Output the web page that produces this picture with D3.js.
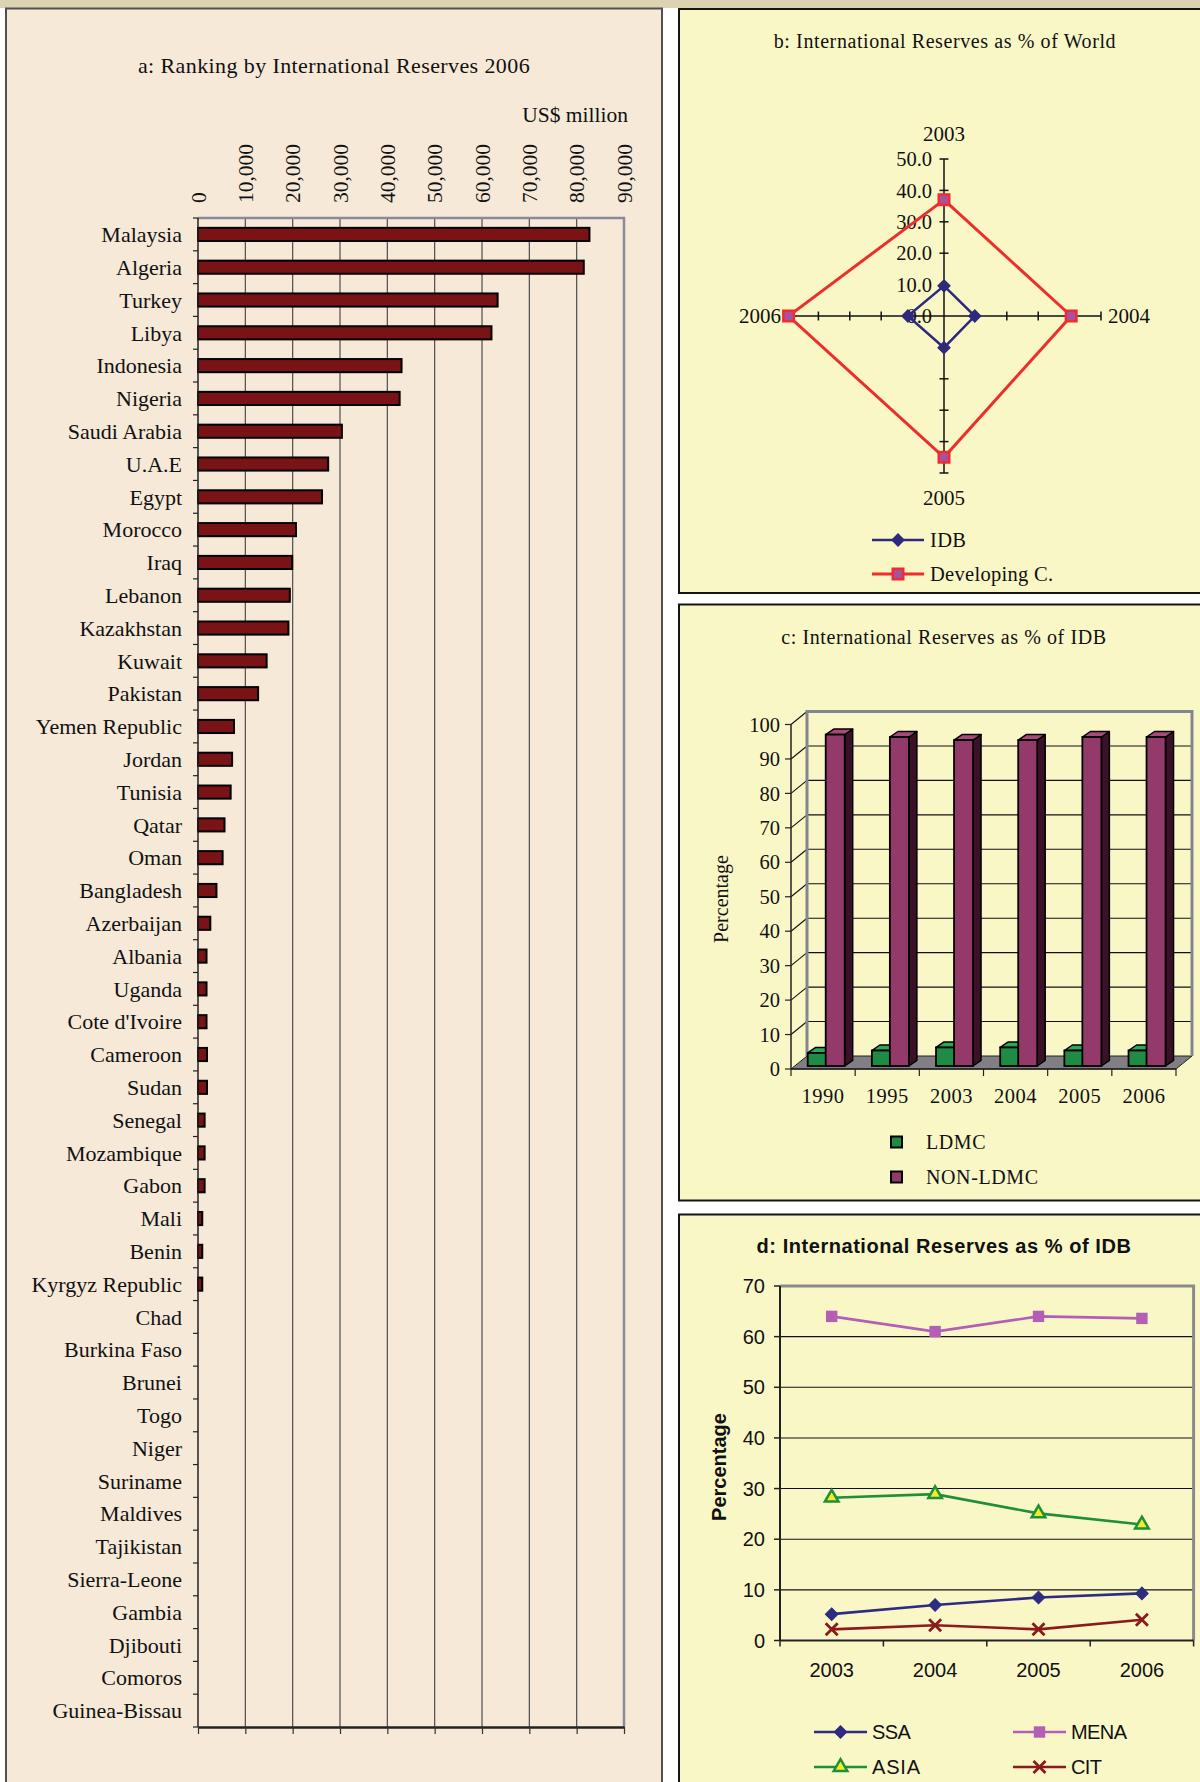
<!DOCTYPE html>
<html>
<head>
<meta charset="utf-8">
<script src="https://cdn.jsdelivr.net/npm/d3@7"></script>
<style>
  html, body { margin: 0; padding: 0; background: #ffffff; }
  svg { display: block; }
</style>
</head>
<body>
<svg id="chart" width="1200" height="1782"></svg>
<script>
// ---------- a: ranking by international reserves 2006 (US$ million) ----------
const countries = [
  "Malaysia", "Algeria", "Turkey", "Libya", "Indonesia", "Nigeria", "Saudi Arabia",
  "U.A.E", "Egypt", "Morocco", "Iraq", "Lebanon", "Kazakhstan", "Kuwait", "Pakistan",
  "Yemen Republic", "Jordan", "Tunisia", "Qatar", "Oman", "Bangladesh", "Azerbaijan",
  "Albania", "Uganda", "Cote d'Ivoire", "Cameroon", "Sudan", "Senegal", "Mozambique",
  "Gabon", "Mali", "Benin", "Kyrgyz Republic", "Chad", "Burkina Faso", "Brunei", "Togo",
  "Niger", "Suriname", "Maldives", "Tajikistan", "Sierra-Leone", "Gambia", "Djibouti",
  "Comoros", "Guinea-Bissau"
];
const reserves2006 = [
  82700, 81500, 63300, 62000, 43000, 42600, 30400,
  27500, 26200, 20700, 19900, 19400, 19100, 14500, 12700,
  7600, 7200, 6900, 5600, 5200, 3900, 2600,
  1800, 1800, 1800, 1900, 1900, 1400, 1400,
  1400, 900, 900, 900, 0, 0, 0, 0,
  0, 0, 0, 0, 0, 0, 0,
  0, 0
];
const reserveTicks = [0, 10000, 20000, 30000, 40000, 50000, 60000, 70000, 80000, 90000];

// ---------- b: international reserves as % of world ----------
const radarYears = ["2003", "2004", "2005", "2006"];
const idbShareWorld = [9.6, 9.8, 10.1, 11.5];
const developingShareWorld = [37.0, 40.5, 45.0, 49.5];
const radarTicks = [0, 10, 20, 30, 40, 50];

// ---------- c: international reserves as % of IDB (LDMC split) ----------
const groupYears = ["1990", "1995", "2003", "2004", "2005", "2006"];
const ldmcShare = [3.8, 4.5, 5.4, 5.4, 4.5, 4.5];
const nonLdmcShare = [96.2, 95.5, 94.6, 94.6, 95.5, 95.5];
const shareTicks = [0, 10, 20, 30, 40, 50, 60, 70, 80, 90, 100];

// ---------- d: international reserves as % of IDB (regions) ----------
const regionYears = ["2003", "2004", "2005", "2006"];
const ssaShare = [5.2, 7.0, 8.5, 9.3];
const menaShare = [64.0, 61.0, 64.0, 63.6];
const asiaShare = [28.2, 28.9, 25.1, 22.9];
const citShare = [2.2, 3.0, 2.2, 4.1];
const regionTicks = [0, 10, 20, 30, 40, 50, 60, 70];

const serif = '"Liberation Serif","Times New Roman",Times,serif';
const sans = '"Liberation Sans",Arial,Helvetica,sans-serif';

const svg = d3.select("#chart");

// page strip and panel frames
svg.append("rect").attr("x", 0).attr("y", 0).attr("width", 1200).attr("height", 8).attr("fill", "#dcd3b1");
const panels = [
  { x: 6, y: 8.5, w: 656, h: 1800, fill: "#f6e9d8", stroke: "#505050" },
  { x: 679, y: 9, w: 540, h: 584, fill: "#faf7c7", stroke: "#151515" },
  { x: 679, y: 604.5, w: 540, h: 596, fill: "#faf7c7", stroke: "#151515" },
  { x: 679, y: 1214.5, w: 540, h: 600, fill: "#faf7c7", stroke: "#151515" }
];
svg.selectAll("rect.panel").data(panels).join("rect")
  .attr("class", "panel")
  .attr("x", d => d.x).attr("y", d => d.y).attr("width", d => d.w).attr("height", d => d.h)
  .attr("fill", d => d.fill).attr("stroke", d => d.stroke).attr("stroke-width", 2);

function label(g, x, y, str, o = {}) {
  return g.append("text")
    .attr("x", x).attr("y", y)
    .attr("dy", o.dy || "0.35em")
    .attr("text-anchor", o.anchor || "middle")
    .attr("font-family", o.font || serif)
    .attr("font-size", o.size || 20)
    .attr("font-weight", o.weight || "normal")
    .attr("letter-spacing", o.ls || 0)
    .attr("fill", o.fill || "#111")
    .attr("transform", o.rotate ? `rotate(${o.rotate},${x},${y})` : null)
    .text(str);
}

// ================= panel a =================
(function () {
  const g = svg.append("g");
  const x = d3.scaleLinear().domain([0, 90000]).range([198, 624]);
  const y = d3.scaleBand().domain(countries).range([218, 1727]).paddingInner(0.6).paddingOuter(0.3);
  const top = 218, bottom = 1727;

  label(g, 334, 65, "a: Ranking by International Reserves 2006", { size: 22, ls: 0.4 });
  label(g, 628, 114, "US$ million", { size: 21.5, anchor: "end" });

  // vertical gridlines
  g.selectAll("line.grid").data(reserveTicks.slice(1, -1)).join("line")
    .attr("x1", d => x(d)).attr("x2", d => x(d)).attr("y1", top).attr("y2", bottom)
    .attr("stroke", "#4d4d4d").attr("stroke-width", 1.2);
  // plot area frame (top and right)
  g.append("path")
    .attr("d", `M${x(0)},${top}H${x(90000)}V${bottom}`)
    .attr("fill", "none").attr("stroke", "#8b8b98").attr("stroke-width", 2.5);

  // bars
  const rows = countries.map((c, i) => ({ c, v: reserves2006[i] })).filter(d => d.v > 0);
  g.selectAll("rect.bar").data(rows).join("rect")
    .attr("x", x(0)).attr("y", d => y(d.c))
    .attr("width", d => x(d.v) - x(0)).attr("height", y.bandwidth())
    .attr("fill", "#7a1315").attr("stroke", "#000").attr("stroke-width", 2);

  // category axis
  const gap = (y.step() - y.bandwidth()) / 2;
  const bounds = countries.map(c => y(c) - gap).concat([bottom]);
  g.append("line").attr("x1", x(0)).attr("x2", x(0)).attr("y1", top).attr("y2", bottom)
    .attr("stroke", "#222").attr("stroke-width", 1.5);
  g.selectAll("line.ctick").data(bounds).join("line")
    .attr("x1", x(0) - 5).attr("x2", x(0)).attr("y1", d => d).attr("y2", d => d)
    .attr("stroke", "#222").attr("stroke-width", 1.2);
  g.selectAll("text.cat").data(countries).join("text")
    .attr("x", x(0) - 16).attr("y", d => y(d) + y.bandwidth() / 2).attr("dy", "0.35em")
    .attr("text-anchor", "end").attr("font-family", serif).attr("font-size", 22).attr("fill", "#111")
    .text(d => d);

  // value axis: ticks at the bottom, labels above the plot
  g.append("g").attr("transform", `translate(0,${bottom})`)
    .call(d3.axisBottom(x).tickValues(reserveTicks).tickSize(7).tickSizeOuter(0).tickFormat(""))
    .call(s => s.select(".domain").attr("stroke", "#222").attr("stroke-width", 2.5))
    .call(s => s.selectAll(".tick line").attr("stroke", "#333").attr("stroke-width", 1.2));
  g.selectAll("text.vlab").data(reserveTicks).join("text")
    .attr("transform", d => `translate(${x(d)},203) rotate(-90)`)
    .attr("dy", "0.35em").attr("text-anchor", "start")
    .attr("font-family", serif).attr("font-size", 21.5).attr("fill", "#111")
    .text(d => d3.format(",")(d));
})();

// ================= panel b: radar =================
(function () {
  const g = svg.append("g");
  const cx = 944, cy = 316;
  const r = d3.scaleLinear().domain([0, 50]).range([0, 157]);
  const ang = d3.scalePoint().domain(radarYears).range([0, 1.5 * Math.PI]);
  const pt = (year, v) => {
    const a = ang(year);
    return [cx + Math.sin(a) * r(v), cy - Math.cos(a) * r(v)];
  };

  label(g, 945, 41, "b: International Reserves as % of World", { size: 20, ls: 0.6 });

  // spokes with cross tick marks
  radarYears.forEach(yr => {
    const [x2, y2] = pt(yr, 50);
    g.append("line").attr("x1", cx).attr("y1", cy).attr("x2", x2).attr("y2", y2)
      .attr("stroke", "#111").attr("stroke-width", 1.5);
    const a = ang(yr);
    radarTicks.slice(1).forEach(v => {
      const [px, py] = pt(yr, v);
      const nx = Math.cos(a) * 4.5, ny = Math.sin(a) * 4.5;
      g.append("line").attr("x1", px - nx).attr("y1", py - ny).attr("x2", px + nx).attr("y2", py + ny)
        .attr("stroke", "#111").attr("stroke-width", 1.5);
    });
  });
  // value labels along the first spoke
  radarTicks.forEach(v => {
    const [px, py] = pt(radarYears[0], v);
    label(g, px - 12, py, d3.format(".1f")(v), { anchor: "end", size: 20.5 });
  });
  // spoke labels
  const [tx, ty] = pt("2003", 50); label(g, tx, ty - 25, "2003", { size: 21 });
  const [rx, ry] = pt("2004", 50); label(g, rx + 7, ry, "2004", { size: 21, anchor: "start" });
  const [bx, by] = pt("2005", 50); label(g, bx, by + 25, "2005", { size: 21 });
  const [lx, ly] = pt("2006", 50); label(g, lx - 6, ly, "2006", { size: 21, anchor: "end" });

  const line = d3.line().curve(d3.curveLinearClosed);
  const devPts = radarYears.map((yr, i) => pt(yr, developingShareWorld[i]));
  const idbPts = radarYears.map((yr, i) => pt(yr, idbShareWorld[i]));
  g.append("path").attr("d", line(devPts)).attr("fill", "none").attr("stroke", "#ec2e2e").attr("stroke-width", 3);
  g.append("path").attr("d", line(idbPts)).attr("fill", "none").attr("stroke", "#2d2a7c").attr("stroke-width", 2.5);

  const diamond = d3.symbol(d3.symbolSquare, 95);
  const square = d3.symbol(d3.symbolSquare, 110);
  g.selectAll("path.idb").data(idbPts).join("path")
    .attr("d", diamond).attr("transform", d => `translate(${d[0]},${d[1]}) rotate(45)`)
    .attr("fill", "#2d2a7c");
  g.selectAll("path.dev").data(devPts).join("path")
    .attr("d", square).attr("transform", d => `translate(${d[0]},${d[1]})`)
    .attr("fill", "#a9509f").attr("stroke", "#ec2e2e").attr("stroke-width", 2.5);

  // legend
  const leg = [
    { name: "IDB", y: 540, color: "#2d2a7c", w: 2.5 },
    { name: "Developing C.", y: 574, color: "#ec2e2e", w: 3 }
  ];
  leg.forEach((d, i) => {
    g.append("line").attr("x1", 872).attr("x2", 924).attr("y1", d.y).attr("y2", d.y)
      .attr("stroke", d.color).attr("stroke-width", d.w);
    if (i === 0) {
      g.append("path").attr("d", diamond).attr("transform", `translate(898,${d.y}) rotate(45)`).attr("fill", d.color);
    } else {
      g.append("path").attr("d", square).attr("transform", `translate(898,${d.y})`)
        .attr("fill", "#a9509f").attr("stroke", d.color).attr("stroke-width", 2.5);
    }
    label(g, 930, d.y, d.name, { anchor: "start", size: 20.5, ls: 0.3 });
  });
})();

// ================= panel c: 3-D clustered columns =================
(function () {
  const g = svg.append("g");
  const x = d3.scaleBand().domain(groupYears).range([791, 1176]);
  const y = d3.scaleLinear().domain([0, 100]).range([1069, 724.5]);
  const sub = d3.scaleBand().domain(["LDMC", "NON-LDMC"]).range([17.7, 53.7]);
  const wdx = 16, wdy = -13;        // wall depth
  const bdx = 8, bdy = -5.5;        // column depth
  const lift = 3;                    // columns stand slightly behind the front edge
  const x0 = 791, x1 = 1176;

  label(g, 944, 637, "c: International Reserves as % of IDB", { size: 20, ls: 0.6 });

  // floor
  g.append("path")
    .attr("d", `M${x0},${y(0)}L${x1},${y(0)}L${x1 + wdx},${y(0) + wdy}L${x0 + wdx},${y(0) + wdy}Z`)
    .attr("fill", "#7f7f84").attr("stroke", "#222").attr("stroke-width", 1);
  // back wall gridlines and side-wall diagonals
  shareTicks.slice(1, -1).forEach(v => {
    g.append("line").attr("x1", x0 + wdx).attr("x2", x1 + wdx).attr("y1", y(v) + wdy).attr("y2", y(v) + wdy)
      .attr("stroke", "#111").attr("stroke-width", 1.1);
  });
  shareTicks.slice(1).forEach(v => {
    g.append("line").attr("x1", x0).attr("x2", x0 + wdx).attr("y1", y(v)).attr("y2", y(v) + wdy)
      .attr("stroke", "#111").attr("stroke-width", 1.1);
  });
  // wall frame
  g.append("path")
    .attr("d", `M${x0 + wdx},${y(0) + wdy}V${y(100) + wdy}H${x1 + wdx}V${y(0) + wdy}`)
    .attr("fill", "none").attr("stroke", "#858590").attr("stroke-width", 3);

  // columns
  const colors = {
    "LDMC": { front: "#1f8b45", top: "#2ea65a", side: "#0e4f25" },
    "NON-LDMC": { front: "#943a6b", top: "#a8487c", side: "#3a1228" }
  };
  groupYears.forEach((yr, i) => {
    [["LDMC", ldmcShare[i]], ["NON-LDMC", nonLdmcShare[i]]].forEach(([s, v]) => {
      const fx = x(yr) + sub(s) - 1, fw = sub.bandwidth() + 1;
      const base = y(0) - lift, topY = y(v) - lift;
      const c = colors[s];
      g.append("path")
        .attr("d", `M${fx + fw},${topY}L${fx + fw + bdx},${topY + bdy}L${fx + fw + bdx},${base + bdy}L${fx + fw},${base}Z`)
        .attr("fill", c.side).attr("stroke", "#000").attr("stroke-width", 1.5).attr("stroke-linejoin", "round");
      g.append("path")
        .attr("d", `M${fx},${topY}L${fx + bdx},${topY + bdy}L${fx + fw + bdx},${topY + bdy}L${fx + fw},${topY}Z`)
        .attr("fill", c.top).attr("stroke", "#000").attr("stroke-width", 1.5).attr("stroke-linejoin", "round");
      g.append("rect").attr("x", fx).attr("y", topY).attr("width", fw).attr("height", base - topY)
        .attr("fill", c.front).attr("stroke", "#000").attr("stroke-width", 1.8);
    });
  });

  // front axes
  g.append("line").attr("x1", x0).attr("x2", x0).attr("y1", y(0)).attr("y2", y(100))
    .attr("stroke", "#222").attr("stroke-width", 1.5);
  shareTicks.forEach(v => {
    g.append("line").attr("x1", x0 - 6).attr("x2", x0).attr("y1", y(v)).attr("y2", y(v))
      .attr("stroke", "#222").attr("stroke-width", 1.2);
    label(g, 780, y(v), String(v), { anchor: "end", size: 20.5 });
  });
  g.append("line").attr("x1", x0).attr("x2", x1).attr("y1", y(0)).attr("y2", y(0))
    .attr("stroke", "#222").attr("stroke-width", 1.5);
  groupYears.map(yr => x(yr)).concat([x1]).forEach(px => {
    g.append("line").attr("x1", px).attr("x2", px).attr("y1", y(0)).attr("y2", y(0) + 7)
      .attr("stroke", "#222").attr("stroke-width", 1.2);
  });
  groupYears.forEach(yr => label(g, x(yr) + x.bandwidth() / 2, 1096, yr, { size: 20.5, ls: 0.5 }));
  label(g, 721, 899, "Percentage", { size: 20, rotate: -90 });

  // legend
  [["LDMC", 1142], ["NON-LDMC", 1177]].forEach(([s, ly]) => {
    g.append("rect").attr("x", 891).attr("y", ly - 5.5).attr("width", 11).attr("height", 11)
      .attr("fill", colors[s].front).attr("stroke", "#000").attr("stroke-width", 2);
    label(g, 926, ly, s, { anchor: "start", size: 20, ls: 0.6 });
  });
})();

// ================= panel d: regional lines =================
(function () {
  const g = svg.append("g");
  const x = d3.scaleBand().domain(regionYears).range([780, 1193.6]);
  const y = d3.scaleLinear().domain([0, 70]).range([1640.5, 1286]);
  const cxp = yr => x(yr) + x.bandwidth() / 2;

  label(g, 944, 1246, "d: International Reserves as % of IDB", { font: sans, size: 20, weight: "bold", ls: 0.55 });

  regionTicks.slice(1, -1).forEach(v => {
    g.append("line").attr("x1", 780).attr("x2", 1193.6).attr("y1", y(v)).attr("y2", y(v))
      .attr("stroke", "#111").attr("stroke-width", 1.1);
  });
  g.append("path").attr("d", `M780,${y(70)}H1193.6V${y(0)}`)
    .attr("fill", "none").attr("stroke", "#8a8a8e").attr("stroke-width", 3);
  g.append("line").attr("x1", 780).attr("x2", 780).attr("y1", y(0)).attr("y2", y(70))
    .attr("stroke", "#222").attr("stroke-width", 2);
  g.append("line").attr("x1", 780).attr("x2", 1193.6).attr("y1", y(0)).attr("y2", y(0))
    .attr("stroke", "#222").attr("stroke-width", 2);
  regionTicks.forEach(v => {
    g.append("line").attr("x1", 774).attr("x2", 780).attr("y1", y(v)).attr("y2", y(v))
      .attr("stroke", "#222").attr("stroke-width", 1.5);
    label(g, 765, y(v), String(v), { font: sans, anchor: "end", size: 20 });
  });
  regionYears.map(yr => x(yr)).concat([1193.6]).forEach(px => {
    g.append("line").attr("x1", px).attr("x2", px).attr("y1", y(0)).attr("y2", y(0) + 6)
      .attr("stroke", "#222").attr("stroke-width", 1.5);
  });
  regionYears.forEach(yr => label(g, cxp(yr), 1670, yr, { font: sans, size: 20 }));
  label(g, 719, 1467, "Percentage", { font: sans, size: 20, weight: "bold", rotate: -90 });

  const marker = {
    diamond: (sel, c) => sel.append("path").attr("d", d3.symbol(d3.symbolSquare, 80)()).attr("fill", c)
      .attr("stroke", c).attr("stroke-width", 1).attr("data-rot", 45),
    square: (sel, c) => sel.append("path").attr("d", d3.symbol(d3.symbolSquare, 130)()).attr("fill", c),
    triangle: (sel, c) => sel.append("path").attr("d", d3.symbol(d3.symbolTriangle, 80)())
      .attr("fill", "#f3ec22").attr("stroke", c).attr("stroke-width", 2.5),
    cross: (sel, c) => sel.append("path").attr("d", "M-6,-6L6,6M-6,6L6,-6").attr("fill", "none")
      .attr("stroke", c).attr("stroke-width", 2.8)
  };
  const series = [
    { name: "SSA", values: ssaShare, color: "#2d2c80", shape: "diamond", lx: 814, ly: 1732 },
    { name: "MENA", values: menaShare, color: "#b45fb6", shape: "square", lx: 1013, ly: 1732 },
    { name: "ASIA", values: asiaShare, color: "#1f8f3c", shape: "triangle", lx: 814, ly: 1767 },
    { name: "CIT", values: citShare, color: "#8b1a1c", shape: "cross", lx: 1013, ly: 1767 }
  ];
  const line = d3.line().x(d => cxp(d[0])).y(d => y(d[1]));
  const place = (sel, px, py) => {
    const rot = sel.attr("data-rot");
    sel.attr("transform", `translate(${px},${py})${rot ? ` rotate(${rot})` : ""}`);
  };
  series.forEach(s => {
    const pts = regionYears.map((yr, i) => [yr, s.values[i]]);
    g.append("path").attr("d", line(pts)).attr("fill", "none").attr("stroke", s.color).attr("stroke-width", 2.6);
    pts.forEach(p => place(marker[s.shape](g, s.color), cxp(p[0]), y(p[1])));
    // legend entry
    g.append("line").attr("x1", s.lx).attr("x2", s.lx + 53).attr("y1", s.ly).attr("y2", s.ly)
      .attr("stroke", s.color).attr("stroke-width", 2.6);
    place(marker[s.shape](g, s.color), s.lx + 26.5, s.ly);
    label(g, s.lx + 58, s.ly, s.name, { font: sans, anchor: "start", size: 20, ls: s.name === "ASIA" ? 0.8 : -0.6 });
  });
})();
</script>
</body>
</html>
